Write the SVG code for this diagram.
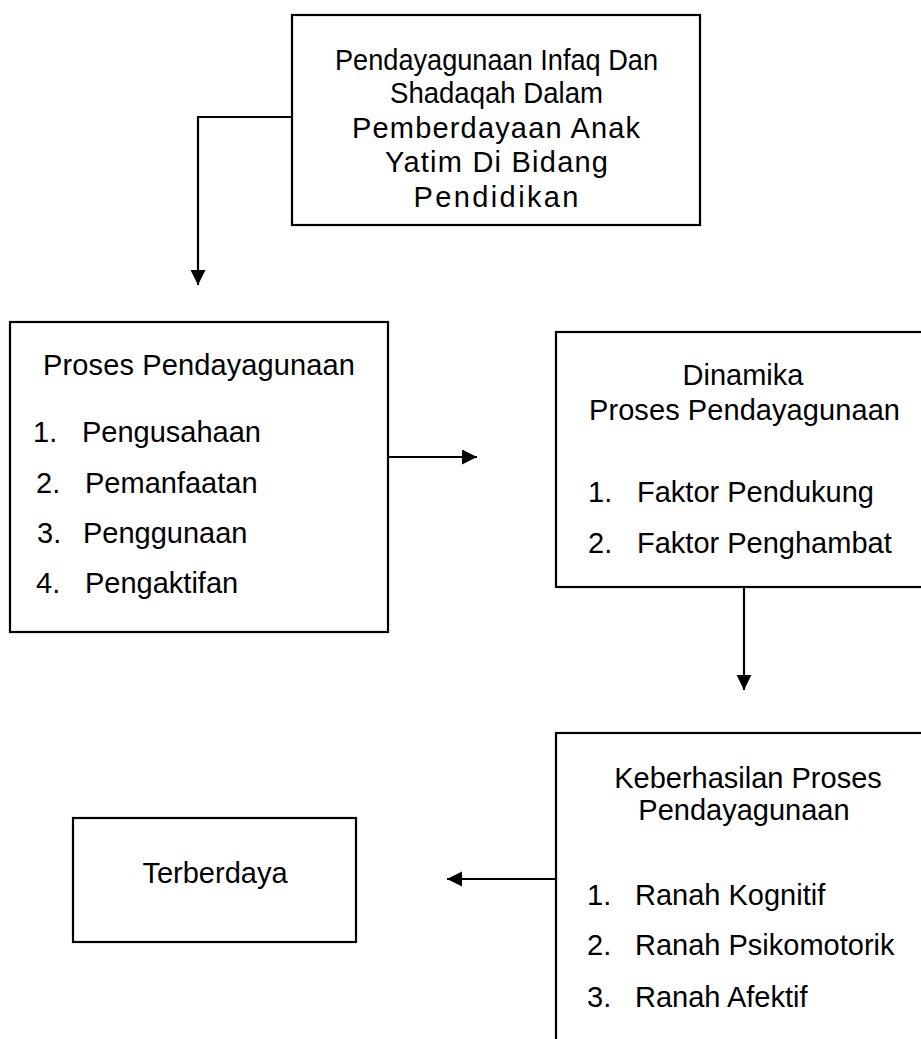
<svg xmlns="http://www.w3.org/2000/svg" width="921" height="1039" viewBox="0 0 921 1039">
  <style>
    .box { fill: #ffffff; stroke: #000000; stroke-width: 2.2; }
    .t { font-family: "Liberation Sans", Arial, sans-serif; font-size: 29px; fill: #000000; }
    .c { text-anchor: middle; }
    .conn { fill: none; stroke: #000000; stroke-width: 2.2; }
  </style>
  <defs>
    <marker id="arrow" markerUnits="userSpaceOnUse" markerWidth="16" markerHeight="16" refX="15" refY="7.5" orient="auto">
      <path d="M0,0 L15,7.5 L0,15 z" fill="#000000"/>
    </marker>
  </defs>
  <rect width="921" height="1039" fill="#ffffff"/>

  <g id="connectors">
    <polyline class="conn" points="292,117 198,117 198,285" marker-end="url(#arrow)"/>
    <line class="conn" x1="388" y1="457" x2="477" y2="457" marker-end="url(#arrow)"/>
    <line class="conn" x1="744" y1="587" x2="744" y2="690" marker-end="url(#arrow)"/>
    <line class="conn" x1="556" y1="879" x2="447" y2="879" marker-end="url(#arrow)"/>
  </g>

  <g id="node-top">
    <rect class="box" x="292" y="15" width="408" height="210"/>
    <text class="t c" x="496.5" y="70" font-size="28" textLength="323" lengthAdjust="spacingAndGlyphs">Pendayagunaan Infaq Dan</text>
    <text class="t c" x="496.5" y="103" font-size="28" textLength="213" lengthAdjust="spacingAndGlyphs">Shadaqah Dalam</text>
    <text class="t c" x="496" y="138" font-size="27" textLength="288" lengthAdjust="spacing">Pemberdayaan Anak</text>
    <text class="t c" x="496.5" y="172" font-size="27" textLength="223" lengthAdjust="spacing">Yatim Di Bidang</text>
    <text class="t c" x="496" y="207" font-size="27" textLength="165" lengthAdjust="spacing">Pendidikan</text>
  </g>

  <g id="node-proses">
    <rect class="box" x="10" y="322" width="378" height="310"/>
    <text class="t c" x="199" y="375" textLength="312" lengthAdjust="spacing">Proses Pendayagunaan</text>
    <text class="t" x="33" y="442">1.</text>
    <text class="t" x="82" y="442">Pengusahaan</text>
    <text class="t" x="36" y="493">2.</text>
    <text class="t" x="85" y="493">Pemanfaatan</text>
    <text class="t" x="37" y="543">3.</text>
    <text class="t" x="83" y="543">Penggunaan</text>
    <text class="t" x="36" y="593">4.</text>
    <text class="t" x="85" y="593">Pengaktifan</text>
  </g>

  <g id="node-dinamika">
    <rect class="box" x="556" y="332" width="420" height="255"/>
    <text class="t c" x="743" y="385">Dinamika</text>
    <text class="t c" x="744.5" y="420" textLength="311" lengthAdjust="spacing">Proses Pendayagunaan</text>
    <text class="t" x="588" y="502">1.</text>
    <text class="t" x="637" y="502">Faktor Pendukung</text>
    <text class="t" x="588" y="553">2.</text>
    <text class="t" x="637" y="553">Faktor Penghambat</text>
  </g>

  <g id="node-keberhasilan">
    <rect class="box" x="556" y="733" width="420" height="400"/>
    <text class="t c" x="748" y="788">Keberhasilan Proses</text>
    <text class="t c" x="744" y="820">Pendayagunaan</text>
    <text class="t" x="587" y="905">1.</text>
    <text class="t" x="635" y="905">Ranah Kognitif</text>
    <text class="t" x="587" y="955">2.</text>
    <text class="t" x="635" y="955">Ranah Psikomotorik</text>
    <text class="t" x="587" y="1007">3.</text>
    <text class="t" x="635" y="1007">Ranah Afektif</text>
  </g>

  <g id="node-terberdaya">
    <rect class="box" x="73" y="818" width="283" height="124"/>
    <text class="t c" x="215" y="883">Terberdaya</text>
  </g>
</svg>
